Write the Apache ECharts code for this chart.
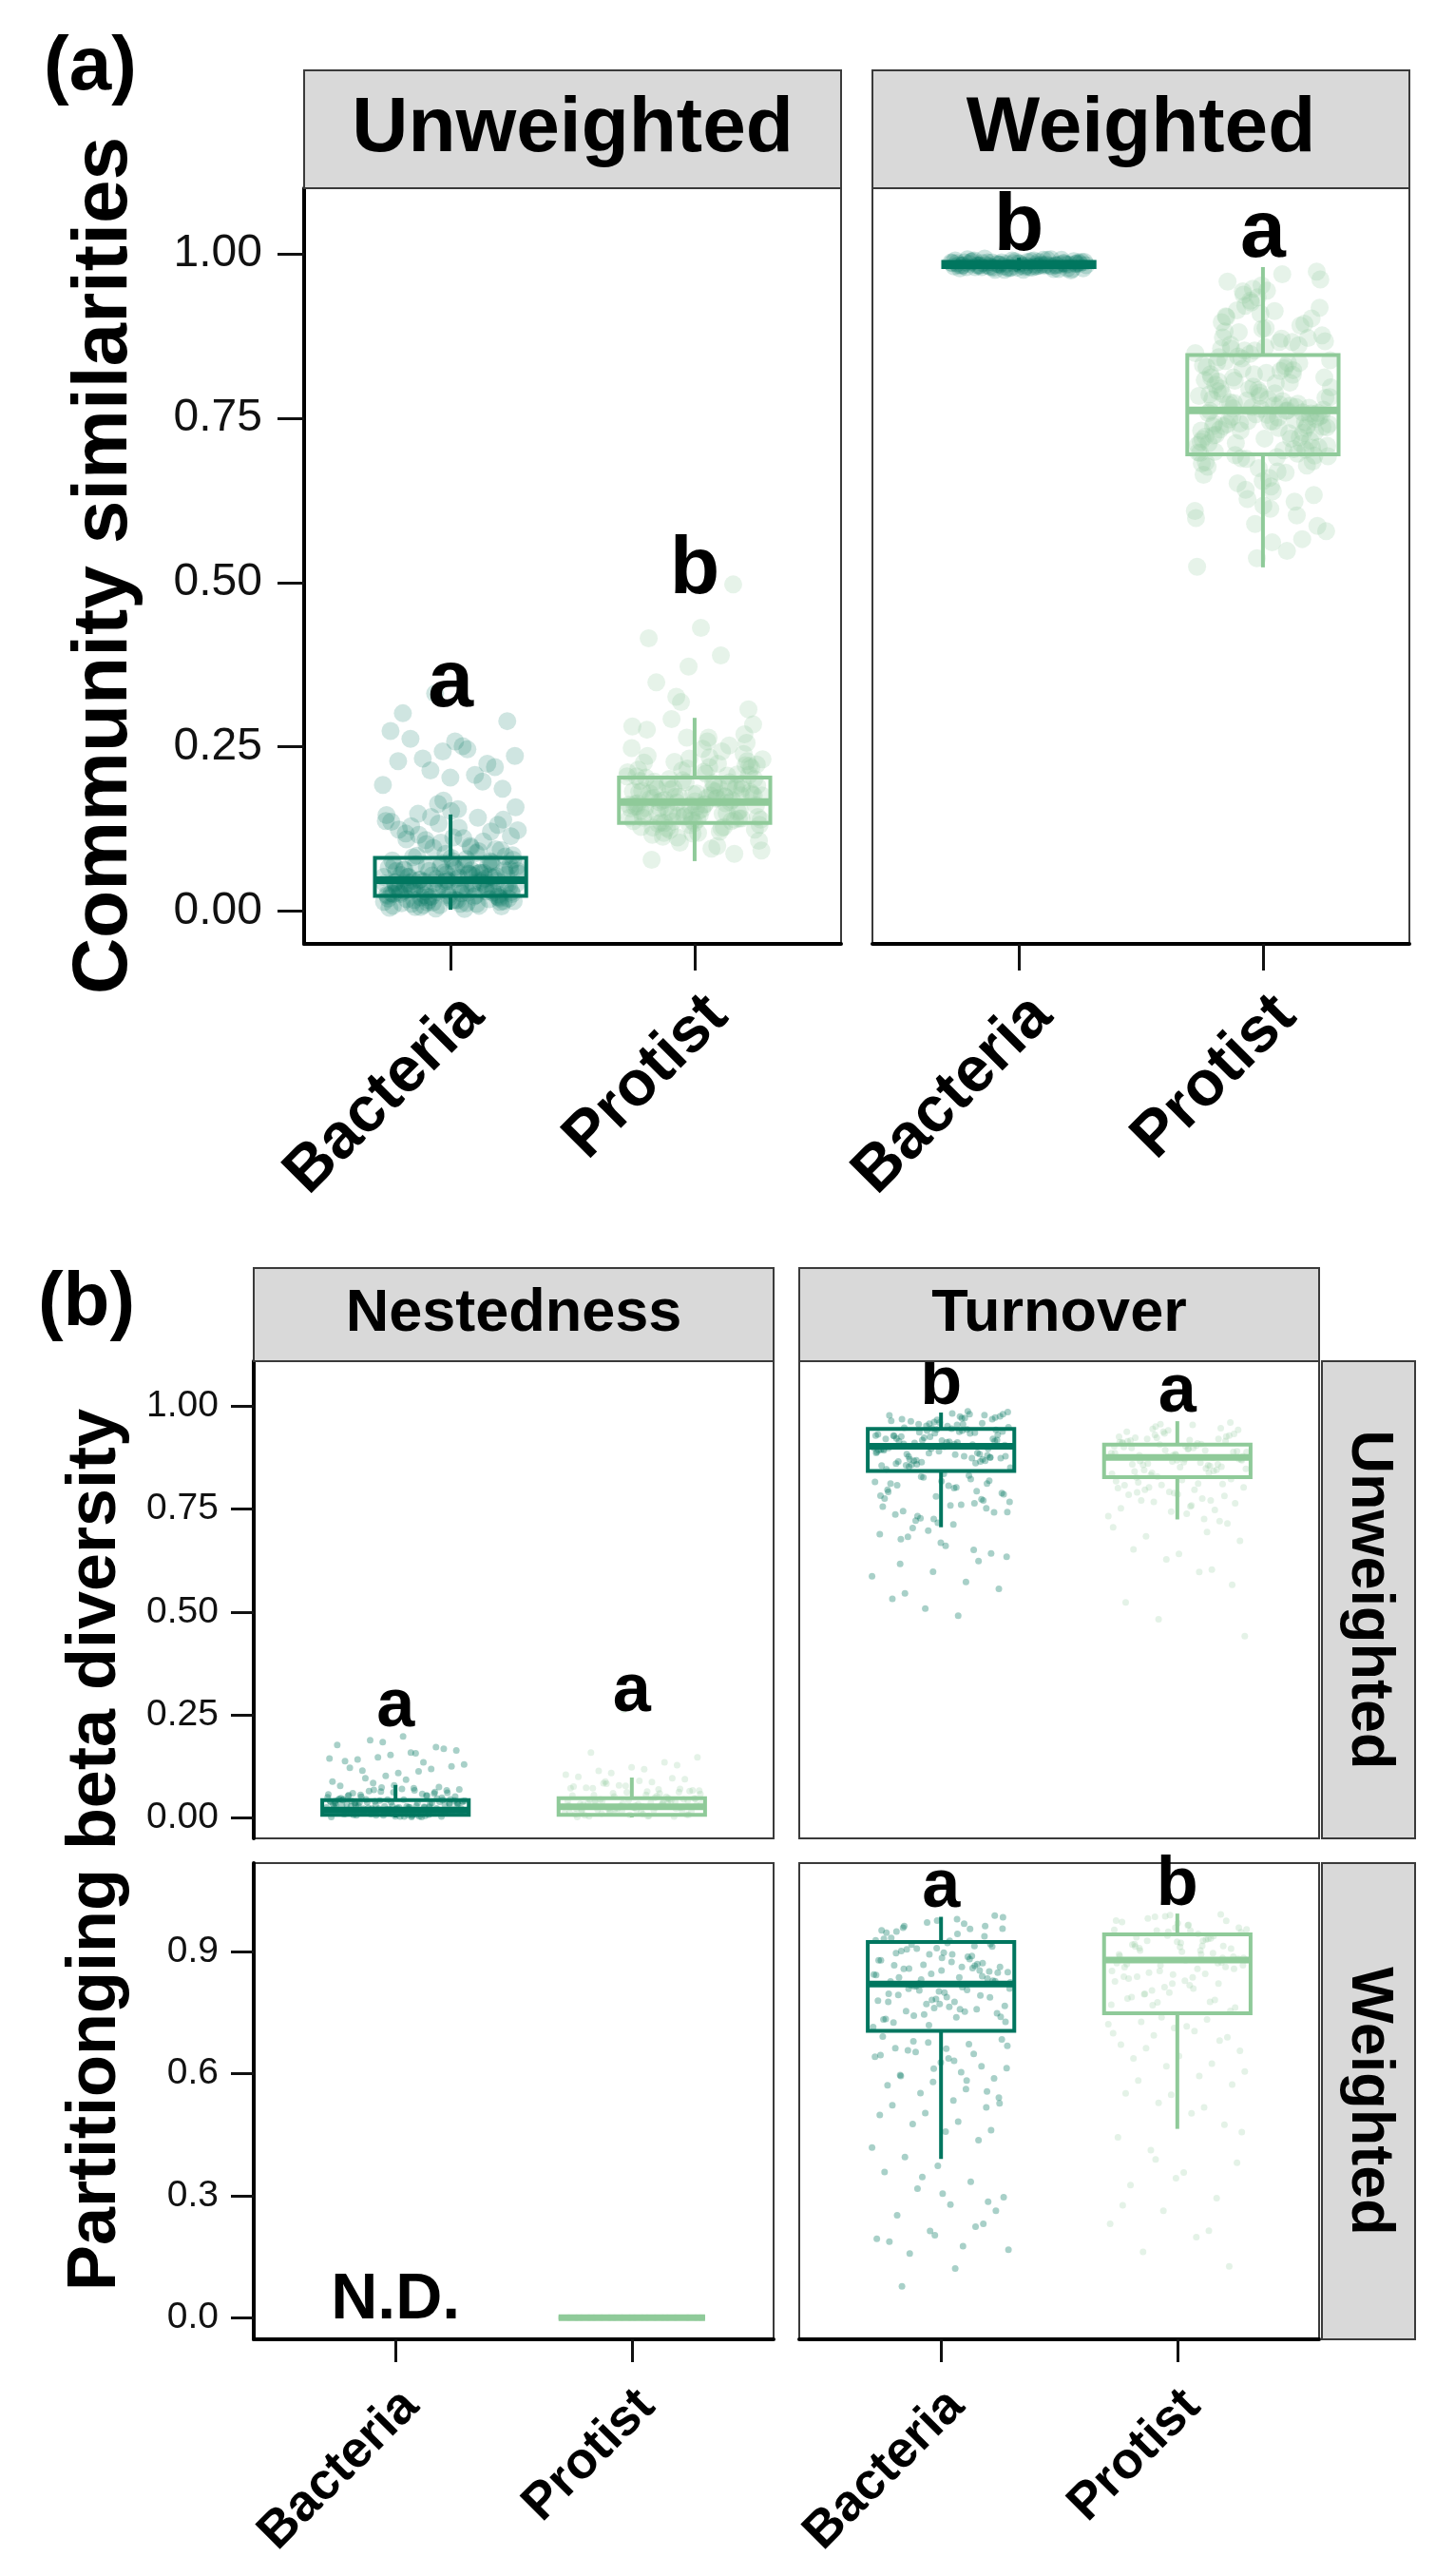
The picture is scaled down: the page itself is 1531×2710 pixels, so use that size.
<!DOCTYPE html>
<html>
<head>
<meta charset="utf-8">
<script src="https://cdn.jsdelivr.net/npm/echarts@6.0.0/dist/echarts.min.js"></script>
<style>
  html, body { margin: 0; padding: 0; background: #ffffff; }
  #chart { width: 1531px; height: 2710px; }
</style>
</head>
<body>
<div id="chart"></div>
<script>
// ---------------- DATA ----------------
const categories = ['Bacteria', 'Protist'];
const panelATitles = ['Unweighted', 'Weighted'];
const panelBColTitles = ['Nestedness', 'Turnover'];
const panelBRowTitles = ['Unweighted', 'Weighted'];
const ticksUpper = [0, 0.25, 0.5, 0.75, 1.0];
const ticksLower = [0, 0.3, 0.6, 0.9];

// (a) Community similarities - jittered observations
const simUnwBacteria = [0.012,0.034,0.021,0.056,0.043,0.008,0.067,0.029,0.051,0.018,0.074,0.038,0.025,0.062,0.047,0.015,0.081,0.033,0.058,0.022,0.041,0.069,0.011,0.053,0.036,0.027,0.088,0.045,0.019,0.064,0.031,0.072,0.049,0.014,0.057,0.039,0.093,0.024,0.061,0.044,0.017,0.078,0.035,0.052,0.028,0.104,0.066,0.042,0.021,0.083,0.112,0.055,0.037,0.096,0.123,0.071,0.046,0.131,0.087,0.026,0.142,0.108,0.063,0.155,0.118,0.076,0.163,0.137,0.099,0.148,0.186,0.203,0.228,0.197,0.214,0.236,0.251,0.262,0.219,0.243,0.274,0.207,0.232,0.289,0.258,0.301,0.224,0.331,0.192,0.246,
  0.006,0.019,0.031,0.044,0.058,0.013,0.026,0.039,0.052,0.071,0.009,0.023,0.037,0.048,0.062,0.016,0.028,0.041,0.054,0.068,0.003,0.032,0.046,0.059,0.077,0.011,0.024,0.036,0.049,0.063,0.018,0.029,0.042,0.056,0.084,0.007,0.021,0.034,0.047,0.061,0.015,0.027,0.039,0.051,0.073,0.005,0.022,0.038,0.055,0.066,0.012,0.03,0.043,0.057,0.079,0.017,0.025,0.048,0.069,0.091,0.102,0.114,0.127,0.109,0.121,0.133,0.146,0.097,0.116,0.139,0.152,0.124,0.106,0.143,0.158,0.111,0.129,0.094,0.168,0.136,
  0.024,0.009,0.041,0.017,0.063,0.033,0.004,0.052,0.028,0.071,0.014,0.046,0.037,0.058,0.021,0.085,0.011,0.043,0.031,0.067,0.019,0.054,0.006,0.038,0.076,0.026,0.049,0.013,0.061,0.035,0.082,0.022,0.045,0.008,0.057,0.03,0.069,0.016,0.04,0.053];
const simUnwProtist = [0.118,0.152,0.174,0.136,0.191,0.163,0.127,0.208,0.145,0.182,0.099,0.169,0.221,0.139,0.157,0.196,0.112,0.176,0.234,0.148,0.186,0.131,0.164,0.243,0.123,0.201,0.155,0.179,0.087,0.214,0.142,0.192,0.168,0.256,0.134,0.183,0.149,0.227,0.107,0.172,0.197,0.141,0.264,0.159,0.188,0.126,0.218,0.153,0.276,0.137,0.174,0.205,0.095,0.166,0.239,0.146,0.181,0.128,0.292,0.161,0.212,0.078,0.187,0.144,0.248,0.171,0.119,0.307,0.158,0.226,0.189,0.326,0.139,0.264,0.348,0.176,0.372,0.205,0.389,0.151,0.284,0.431,0.415,0.497,0.318,0.162,0.195,0.135,0.222,0.178,
  0.128,0.164,0.187,0.143,0.209,0.172,0.151,0.196,0.137,0.224,0.158,0.181,0.119,0.203,0.166,0.145,0.231,0.176,0.133,0.194,0.161,0.215,0.148,0.185,0.124,0.247,0.171,0.139,0.199,0.156,0.182,0.113,0.228,0.167,0.142,0.206,0.174,0.131,0.258,0.189,0.153,0.217,0.163,0.121,0.193,0.178,0.146,0.236,0.169,0.104,0.211,0.184,0.157,0.269,0.138,0.198,0.175,0.149,0.223,0.162,0.116,0.191,0.154,0.281,0.172,0.134,0.207,0.179,0.147,0.252,0.165,0.092,0.219,0.186,0.141,0.232,0.159,0.126,0.201,0.176];
const simWBacteria = [0.981,0.986,0.978,0.989,0.983,0.991,0.976,0.985,0.988,0.98,0.984,0.979,0.99,0.982,0.987,0.977,0.985,0.992,0.981,0.984,0.988,0.979,0.983,0.986,0.99,0.978,0.982,0.987,0.985,0.98,0.989,0.983,0.976,0.986,0.981,0.993,0.984,0.979,0.987,0.982,0.985,0.988,0.98,0.983,0.991,0.978,0.986,0.984,0.981,0.989,0.982,0.985,0.977,0.987,0.983,0.99,0.98,0.984,0.986,0.982,
  0.984,0.979,0.987,0.982,0.99,0.977,0.985,0.981,0.988,0.983,0.975,0.986,0.98,0.992,0.984,0.978,0.989,0.982,0.986,0.979,0.983,0.991,0.98,0.985,0.976,0.988,0.983,0.981,0.987,0.984];
const simWProtist = [0.764,0.712,0.823,0.689,0.781,0.745,0.856,0.702,0.798,0.731,0.667,0.812,0.758,0.887,0.724,0.772,0.641,0.838,0.751,0.905,0.716,0.793,0.683,0.769,0.844,0.737,0.612,0.806,0.759,0.929,0.698,0.776,0.862,0.729,0.654,0.817,0.747,0.943,0.708,0.788,0.873,0.739,0.589,0.831,0.762,0.694,0.918,0.755,0.801,0.721,0.627,0.849,0.771,0.958,0.705,0.784,0.676,0.866,0.742,0.812,0.561,0.733,0.894,0.767,0.697,0.826,0.752,0.973,0.719,0.779,0.602,0.853,0.741,0.691,0.882,0.766,0.537,0.808,0.727,0.914,0.754,0.659,0.835,0.711,0.794,0.524,0.871,0.748,0.633,0.952,0.786,0.703,0.841,0.578,0.769,0.896,0.735,0.817,0.681,0.761,
  0.773,0.706,0.819,0.742,0.861,0.688,0.797,0.735,0.904,0.757,0.674,0.828,0.719,0.881,0.763,0.646,0.843,0.728,0.926,0.784,0.701,0.856,0.749,0.617,0.812,0.767,0.938,0.692,0.803,0.738,0.872,0.756,0.664,0.834,0.712,0.961,0.779,0.725,0.891,0.746,0.598,0.822,0.771,0.684,0.909,0.758,0.816,0.731,0.867,0.639,0.795,0.744,0.947,0.714,0.829,0.765,0.586,0.858,0.738,0.696,0.921,0.782,0.669,0.837,0.753,0.934,0.722,0.804,0.651,0.876,0.745,0.791,0.566,0.848,0.709,0.969,0.774,0.693,0.886,0.761,0.623,0.825,0.736,0.913,0.787,0.678,0.853,0.718,0.548,0.807,0.752,0.944,0.699,0.834,0.777,0.609,0.866,0.741,0.902,0.789];

// (a) box statistics [min, Q1, median, Q3, max] per category
const boxSimUnw = [[0.002,0.023,0.047,0.081,0.147],[0.076,0.134,0.166,0.203,0.294]];
const boxSimW   = [[0.975,0.980,0.984,0.988,0.994],[0.523,0.695,0.762,0.846,0.980]];

// (b) Partitioning beta diversity - jittered observations
const nestUnwBacteria = [0.004,0.018,0.031,0.009,0.042,0.024,0.013,0.036,0.002,0.027,0.046,0.016,0.038,0.007,0.021,0.033,0.011,0.044,0.026,0.005,0.039,0.019,0.029,0.048,0.014,0.035,0.001,0.023,0.041,0.017,0.052,0.058,0.063,0.049,0.071,0.055,0.066,0.061,0.077,0.053,0.084,0.068,0.092,0.059,0.074,0.101,0.087,0.112,0.095,0.124,0.108,0.137,0.118,0.146,0.129,0.158,0.141,0.167,0.152,0.176,0.134,0.188,0.163,0.197,0.121,0.171,0.183,0.143,0.156,0.114,
  0.017,0.003,0.029,0.011,0.039,0.022,0.006,0.034,0.015,0.043,0.026,0.009,0.037,0.019,0.002,0.031,0.012,0.041,0.024,0.007,0.036,0.014,0.028,0.045,0.004,0.021,0.033,0.01,0.04,0.018,0.027,0.001,0.035,0.013,0.044,0.023,0.008,0.032,0.016,0.038,0.025,0.005,0.042,0.02,0.03,0.057,0.064,0.051,0.069,0.054,0.062,0.073,0.056,0.066,0.05,0.06,0.078,0.047,0.053,0.067,
  0.012,0.027,0.006,0.038,0.019,0.031,0.003,0.044,0.015,0.024,0.009,0.035,0.021,0.041,0.001,0.029,0.013,0.037,0.018,0.026,0.008,0.033,0.043,0.016,0.022,0.005,0.039,0.028,0.011,0.034,0.02,0.042,0.007,0.03,0.014,0.025,0.036,0.002,0.017,0.04];
const nestUnwProtist = [0.006,0.021,0.034,0.012,0.045,0.027,0.003,0.038,0.016,0.029,0.048,0.009,0.041,0.024,0.014,0.036,0.051,0.057,0.063,0.054,0.069,0.061,0.075,0.058,0.082,0.066,0.089,0.072,0.095,0.078,0.104,0.086,0.113,0.093,0.122,0.099,0.134,0.108,0.146,0.117,0.158,0.127,0.262,0.071,0.052,0.083,0.064,0.019,0.031,0.043,
  0.011,0.026,0.004,0.037,0.018,0.042,0.008,0.031,0.022,0.046,0.013,0.035,0.002,0.028,0.039,0.017,0.044,0.007,0.024,0.033,0.05,0.059,0.065,0.055,0.071,0.062,0.077,0.053,0.068,0.087,
  0.015,0.032,0.005,0.041,0.023,0.01,0.036,0.019,0.044,0.027,0.001,0.038,0.014,0.03,0.008,0.043,0.021,0.034,0.012,0.025,0.04,0.006,0.029,0.017,0.047,0.02,0.033,0.003,0.039,0.024];
const turnUnwBacteria = [0.912,0.948,0.876,0.967,0.893,0.934,0.859,0.981,0.905,0.922,0.871,0.958,0.887,0.941,0.853,0.973,0.917,0.899,0.936,0.864,0.986,0.908,0.927,0.881,0.962,0.895,0.944,0.868,0.976,0.913,0.929,0.884,0.953,0.902,0.938,0.857,0.969,0.891,0.921,0.874,0.957,0.906,0.946,0.866,0.979,0.897,0.932,0.879,0.964,0.918,0.836,0.812,0.794,0.827,0.768,0.803,0.745,0.819,0.781,0.756,0.832,0.722,0.789,0.807,0.737,0.774,0.698,0.816,0.761,0.683,0.742,0.668,0.797,0.651,0.728,0.634,0.713,0.617,0.752,0.598,0.689,0.573,0.704,0.556,0.661,0.532,0.624,0.508,0.587,0.491,0.545,0.642,0.717,0.776,0.823,0.733,0.786,0.759,0.808,0.771,
  0.926,0.889,0.957,0.871,0.943,0.904,0.978,0.862,0.918,0.949,0.883,0.969,0.897,0.935,0.856,0.988,0.911,0.874,0.952,0.928,0.866,0.941,0.899,0.975,0.884,0.921,0.961,0.847,0.907,0.937,0.879,0.983,0.915,0.868,0.947,0.893,0.972,0.858,0.931,0.902,0.965,0.887,0.924,0.851,0.955,0.909,0.876,0.944,0.896,0.981,0.869,0.939,0.914,0.861,0.959,0.886,0.929,0.971,0.878,0.916,0.818,0.792,0.764,0.829,0.743,0.801,0.677,0.812,0.726,0.783];
const turnUnwProtist = [0.884,0.912,0.857,0.931,0.871,0.896,0.842,0.947,0.878,0.903,0.863,0.921,0.889,0.852,0.938,0.875,0.907,0.848,0.955,0.881,0.916,0.866,0.926,0.893,0.838,0.943,0.872,0.899,0.859,0.934,0.886,0.91,0.845,0.961,0.869,0.901,0.855,0.924,0.879,0.918,0.827,0.811,0.792,0.818,0.776,0.803,0.764,0.821,0.785,0.748,0.809,0.733,0.797,0.771,0.715,0.789,0.752,0.694,0.768,0.673,0.739,0.652,0.721,0.628,0.706,0.597,0.684,0.566,0.641,0.523,0.603,0.482,0.441,0.759,0.815,0.782,0.744,0.801,0.726,0.833,
  0.891,0.864,0.917,0.846,0.938,0.877,0.905,0.858,0.929,0.882,0.911,0.839,0.951,0.869,0.897,0.924,0.853,0.942,0.886,0.908,0.861,0.933,0.874,0.915,0.843,0.957,0.889,0.899,0.867,0.927,0.881,0.913,0.849,0.945,0.872,0.903,0.859,0.921,0.894,0.836,0.812,0.797,0.823,0.786,0.808,0.771,0.829,0.803,0.757,0.791];
const nestWProtist = [0,0,0,0,0,0,0,0,0,0,0,0,0,0,0,0,0,0,0,0];
const turnWBacteria = [0.943,0.962,0.918,0.976,0.931,0.955,0.907,0.984,0.926,0.949,0.871,0.893,0.842,0.812,0.858,0.827,0.884,0.796,0.865,0.818,0.849,0.776,0.901,0.833,0.761,0.878,0.805,0.742,0.862,0.788,0.725,0.853,0.771,0.714,0.836,0.753,0.912,0.802,0.734,0.889,0.821,0.766,0.874,0.793,0.937,0.845,0.779,0.968,0.817,0.748,0.897,0.826,0.758,0.867,0.809,0.738,0.958,0.851,0.783,0.691,0.672,0.653,0.684,0.637,0.662,0.618,0.676,0.641,0.603,0.657,0.588,0.627,0.571,0.648,0.552,0.613,0.534,0.596,0.517,0.579,0.498,0.562,0.476,0.541,0.457,0.522,0.436,0.503,0.418,0.482,0.395,0.461,0.373,0.358,0.334,0.317,0.296,0.278,0.252,0.231,0.213,0.194,0.176,0.158,0.263,0.305,0.187,0.224,0.346,0.167,0.121,0.077,0.285,0.203,
  0.952,0.887,0.814,0.739,0.921,0.866,0.792,0.971,0.843,0.758,0.905,0.828,0.771,0.946,0.859,0.804,0.727,0.893,0.836,0.962,0.781,0.878,0.752,0.917,0.848,0.799,0.933,0.869,0.745,0.824,0.979,0.857,0.787,0.908,0.733,0.881,0.815,0.956,0.764,0.896,0.839,0.719,0.927,0.862,0.808,0.988,0.853,0.776,0.913,0.831,0.668,0.631,0.594,0.556,0.612,0.645,0.583,0.679,0.527,0.661];
const turnWProtist = [0.958,0.972,0.931,0.985,0.947,0.964,0.918,0.991,0.939,0.953,0.902,0.926,0.887,0.911,0.869,0.896,0.852,0.879,0.836,0.908,0.862,0.821,0.893,0.845,0.804,0.882,0.828,0.788,0.871,0.812,0.769,0.857,0.795,0.754,0.924,0.838,0.776,0.951,0.866,0.817,0.935,0.884,0.799,0.976,0.914,0.848,0.762,0.899,0.833,0.781,0.738,0.721,0.704,0.727,0.689,0.712,0.671,0.733,0.694,0.656,0.716,0.637,0.681,0.618,0.699,0.594,0.662,0.573,0.643,0.551,0.624,0.528,0.605,0.502,0.583,0.474,0.548,0.443,0.517,0.412,0.381,0.357,0.326,0.294,0.263,0.231,0.198,0.162,0.126,0.343,0.276,0.214,0.389,0.456,
  0.965,0.912,0.873,0.948,0.826,0.893,0.981,0.857,0.921,0.784,0.938,0.866,0.954,0.809,0.902,0.975,0.843,0.889,0.929,0.768,0.958,0.878,0.917,0.821,0.986,0.852,0.943,0.796,0.907,0.969,0.861,0.932,0.775,0.884,0.951,0.838,0.913,0.989,0.871,0.926];

// (b) box statistics [min, Q1, median, Q3, max]
const boxNestUnw = [[0.0,0.006,0.018,0.042,0.079],[0.0,0.006,0.026,0.047,0.097]];
const boxTurnUnw = [[0.706,0.843,0.903,0.945,0.985],[0.725,0.828,0.876,0.907,0.964]];
const boxNestW   = [null,[0,0,0,0,0]];
const boxTurnW   = [[0.390,0.705,0.820,0.923,0.985],[0.464,0.748,0.879,0.942,0.993]];

// significance letters
const lettersSimUnw = ['a','b'];
const lettersSimW   = ['b','a'];
const lettersNestUnw = ['a','a'];
const lettersTurnUnw = ['b','a'];
const lettersTurnW   = ['a','b'];
const notDetected = 'N.D.';

// ---------------- STYLE / LAYOUT ----------------
const FONT = '"Liberation Sans", Arial, Helvetica, sans-serif';
const COLORS = ['#00765f', '#8fca99'];
const BOX_W = 0.62;

const L = {
  A1: {left: 320, top: 198, width: 565, height: 795},
  A2: {left: 918, top: 198, width: 565, height: 795},
  B11: {left: 267, top: 1432, width: 547, height: 502},
  B12: {left: 841, top: 1432, width: 547, height: 502},
  B21: {left: 267, top: 1960, width: 547, height: 501},
  B22: {left: 841, top: 1960, width: 547, height: 501}
};
// label placements (axis units)
const letterY = {
  A1: [0.346, 0.518], A2: [1.04, 1.03],
  B11: [0.267, 0.305], B12: [1.053, 1.034], B22: [1.057, 1.061], B21ND: 0.043
};

function jitter(i, seed, half) {
  const f = ((i + 1 + seed) * 0.6180339887498949) % 1;
  return (f * 2 - 1) * half;
}

const grids = [], xAxes = [], yAxes = [], series = [];

function addPanel(key, opt) {
  const g = grids.length;
  const p = L[key];
  grids.push({left: p.left, top: p.top, width: p.width, height: p.height, show: true,
    borderColor: '#3a3a3a', borderWidth: 2, backgroundColor: '#ffffff', containLabel: false, outerBoundsMode: 'none'});
  xAxes.push({
    gridIndex: g, type: 'value', min: -0.6, max: 1.6,
    splitLine: {show: false},
    axisLine: {show: opt.showX, onZero: false, lineStyle: {color: '#000', width: 4}},
    axisTick: {show: opt.showX, customValues: [0, 1], length: opt.tickLen, lineStyle: {color: '#111', width: 3}},
    axisLabel: {show: opt.showX, customValues: [0, 1], formatter: v => categories[Math.round(v)],
      rotate: 45, align: 'right', verticalAlign: 'top', lineHeight: opt.xLineH,
      fontSize: opt.xFont, fontWeight: 'bold', fontFamily: FONT, color: '#000', margin: opt.xMargin}
  });
  yAxes.push({
    gridIndex: g, type: 'value', min: opt.yMin, max: opt.yMax,
    splitLine: {show: false},
    axisLine: {show: opt.showY, onZero: false, lineStyle: {color: '#000', width: 4}},
    axisTick: {show: opt.showY, customValues: opt.ticks, length: opt.tickLen, lineStyle: {color: '#111', width: 3}},
    axisLabel: {show: opt.showY, customValues: opt.ticks, formatter: v => v.toFixed(opt.dec),
      fontSize: opt.yFont, fontFamily: FONT, color: '#111', margin: opt.yMargin}
  });
  // points
  opt.points.forEach((vals, cat) => {
    if (!vals) return;
    series.push({
      type: 'scatter', xAxisIndex: g, yAxisIndex: g, symbol: 'circle', symbolSize: opt.ptSize,
      silent: true, z: 2, animation: false, large: false,
      itemStyle: {color: COLORS[cat], opacity: opt.ptOpacity[cat]},
      data: vals.map((v, i) => [cat + jitter(i, cat * 37, opt.jit), v])
    });
  });
  // boxes
  const boxData = [];
  opt.boxes.forEach((b, cat) => { if (b) boxData.push([cat].concat(b)); });
  series.push({
    type: 'custom', xAxisIndex: g, yAxisIndex: g, silent: true, z: 3, animation: false,
    data: boxData,
    renderItem: function (params, api) {
      const cat = api.value(0);
      const c = COLORS[cat];
      const pLo = api.coord([cat, api.value(1)]);
      const pQ1 = api.coord([cat, api.value(2)]);
      const pMd = api.coord([cat, api.value(3)]);
      const pQ3 = api.coord([cat, api.value(4)]);
      const pHi = api.coord([cat, api.value(5)]);
      const half = api.size([BOX_W, 0])[0] / 2;
      return {type: 'group', children: [
        {type: 'line', shape: {x1: pLo[0], y1: pLo[1], x2: pQ1[0], y2: pQ1[1]}, style: {stroke: c, lineWidth: opt.lw}},
        {type: 'line', shape: {x1: pQ3[0], y1: pQ3[1], x2: pHi[0], y2: pHi[1]}, style: {stroke: c, lineWidth: opt.lw}},
        {type: 'rect', shape: {x: pQ3[0] - half, y: pQ3[1], width: 2 * half, height: pQ1[1] - pQ3[1]},
          style: {fill: 'rgba(0,0,0,0)', stroke: c, lineWidth: opt.lw}},
        {type: 'line', shape: {x1: pMd[0] - half, y1: pMd[1], x2: pMd[0] + half, y2: pMd[1]}, style: {stroke: c, lineWidth: opt.medLw}}
      ]};
    }
  });
  // letters (text drawn at axis coordinates)
  if (opt.letters) {
    const texts = opt.letters.map(d => d[2]);
    series.push({
      type: 'custom', xAxisIndex: g, yAxisIndex: g, silent: true, z: 5, animation: false,
      data: opt.letters.map(d => [d[0], d[1]]),
      renderItem: function (params, api) {
        const pt = api.coord([api.value(0), api.value(1)]);
        return {type: 'text', x: pt[0], y: pt[1], z2: 10,
          style: {text: texts[params.dataIndex], fill: '#000', fontSize: opt.letterFont, fontWeight: 'bold',
            fontFamily: FONT, align: 'center', verticalAlign: 'middle'}};
      }
    });
  }
}

const commonA = {yMin: -0.05, yMax: 1.10, ticks: ticksUpper, dec: 2, tickLen: 28, xFont: 67, xLineH: 69, xMargin: 41,
  yFont: 48, yMargin: 44, ptSize: 19, ptOpacity: [0.19, 0.22], jit: 0.28, lw: 4, medLw: 8, letterFont: 86, showX: true};
addPanel('A1', Object.assign({}, commonA, {showY: true,
  points: [simUnwBacteria, simUnwProtist], boxes: boxSimUnw,
  letters: lettersSimUnw.map((t, i) => [i, letterY.A1[i], t])}));
addPanel('A2', Object.assign({}, commonA, {showY: false,
  points: [simWBacteria, simWProtist], boxes: boxSimW,
  letters: lettersSimW.map((t, i) => [i, letterY.A2[i], t])}));

const commonB = {dec: 2, tickLen: 24, xFont: 54, xLineH: 45, xMargin: 46,
  yFont: 39, yMargin: 37, ptSize: 7, ptOpacity: [0.34, 0.24], jit: 0.295, lw: 4, medLw: 7, letterFont: 72};
addPanel('B11', Object.assign({}, commonB, {yMin: -0.051, yMax: 1.11, ticks: ticksUpper, showX: false, showY: true,
  points: [nestUnwBacteria, nestUnwProtist], boxes: boxNestUnw,
  letters: lettersNestUnw.map((t, i) => [i, letterY.B11[i], t])}));
addPanel('B12', Object.assign({}, commonB, {yMin: -0.051, yMax: 1.11, ticks: ticksUpper, showX: false, showY: false,
  points: [turnUnwBacteria, turnUnwProtist], boxes: boxTurnUnw,
  letters: lettersTurnUnw.map((t, i) => [i, letterY.B12[i], t])}));
addPanel('B21', Object.assign({}, commonB, {yMin: -0.053, yMax: 1.117, ticks: ticksLower, dec: 1, showX: true, showY: true,
  points: [null, nestWProtist], boxes: boxNestW,
  letters: [[0, letterY.B21ND, notDetected]], letterFont: 68}));
addPanel('B22', Object.assign({}, commonB, {yMin: -0.053, yMax: 1.117, ticks: ticksLower, dec: 1, showX: true, showY: false,
  points: [turnWBacteria, turnWProtist], boxes: boxTurnW,
  letters: lettersTurnW.map((t, i) => [i, letterY.B22[i], t])}));

// strips & titles
function strip(x, y, w, h, text, fs, rot) {
  const els = [{type: 'rect', shape: {x: x, y: y, width: w, height: h},
    style: {fill: '#d9d9d9', stroke: '#3a3a3a', lineWidth: 2}, z: 10}];
  els.push({type: 'text', x: x + w / 2, y: y + h / 2, rotation: rot || 0, z: 11,
    style: {text: text, fontSize: fs, fontWeight: 'bold', fontFamily: FONT, fill: '#000',
      align: 'center', verticalAlign: 'middle', textAlign: 'center', textVerticalAlign: 'middle'}});
  return els;
}
function label(x, y, text, fs, rot) {
  return {type: 'text', x: x, y: y, rotation: rot || 0, z: 11,
    style: {text: text, fontSize: fs, fontWeight: 'bold', fontFamily: FONT, fill: '#000',
      align: 'center', verticalAlign: 'middle', textAlign: 'center', textVerticalAlign: 'middle'}};
}

let graphics = [];
graphics = graphics.concat(strip(L.A1.left, 74, L.A1.width, 124, panelATitles[0], 82));
graphics = graphics.concat(strip(L.A2.left, 74, L.A2.width, 124, panelATitles[1], 82));
graphics = graphics.concat(strip(L.B11.left, 1334, L.B11.width, 98, panelBColTitles[0], 63));
graphics = graphics.concat(strip(L.B12.left, 1334, L.B12.width, 98, panelBColTitles[1], 63));
graphics = graphics.concat(strip(1391, L.B12.top, 98, L.B12.height, panelBRowTitles[0], 63, -Math.PI / 2));
graphics = graphics.concat(strip(1391, L.B22.top, 98, L.B22.height, panelBRowTitles[1], 63, -Math.PI / 2));
graphics.push(label(95, 72, '(a)', 80));
graphics.push(label(91, 1372, '(b)', 80));
graphics.push(label(110, 595, 'Community similarities', 82, Math.PI / 2));
graphics.push(label(101, 1946, 'Partitionging beta diversity', 72, Math.PI / 2));

const chart = echarts.init(document.getElementById('chart'), null, {renderer: 'canvas', width: 1531, height: 2710});
chart.setOption({
  animation: false,
  backgroundColor: '#ffffff',
  textStyle: {fontFamily: FONT},
  grid: grids,
  xAxis: xAxes,
  yAxis: yAxes,
  series: series,
  graphic: {elements: graphics}
});
</script>
</body>
</html>
